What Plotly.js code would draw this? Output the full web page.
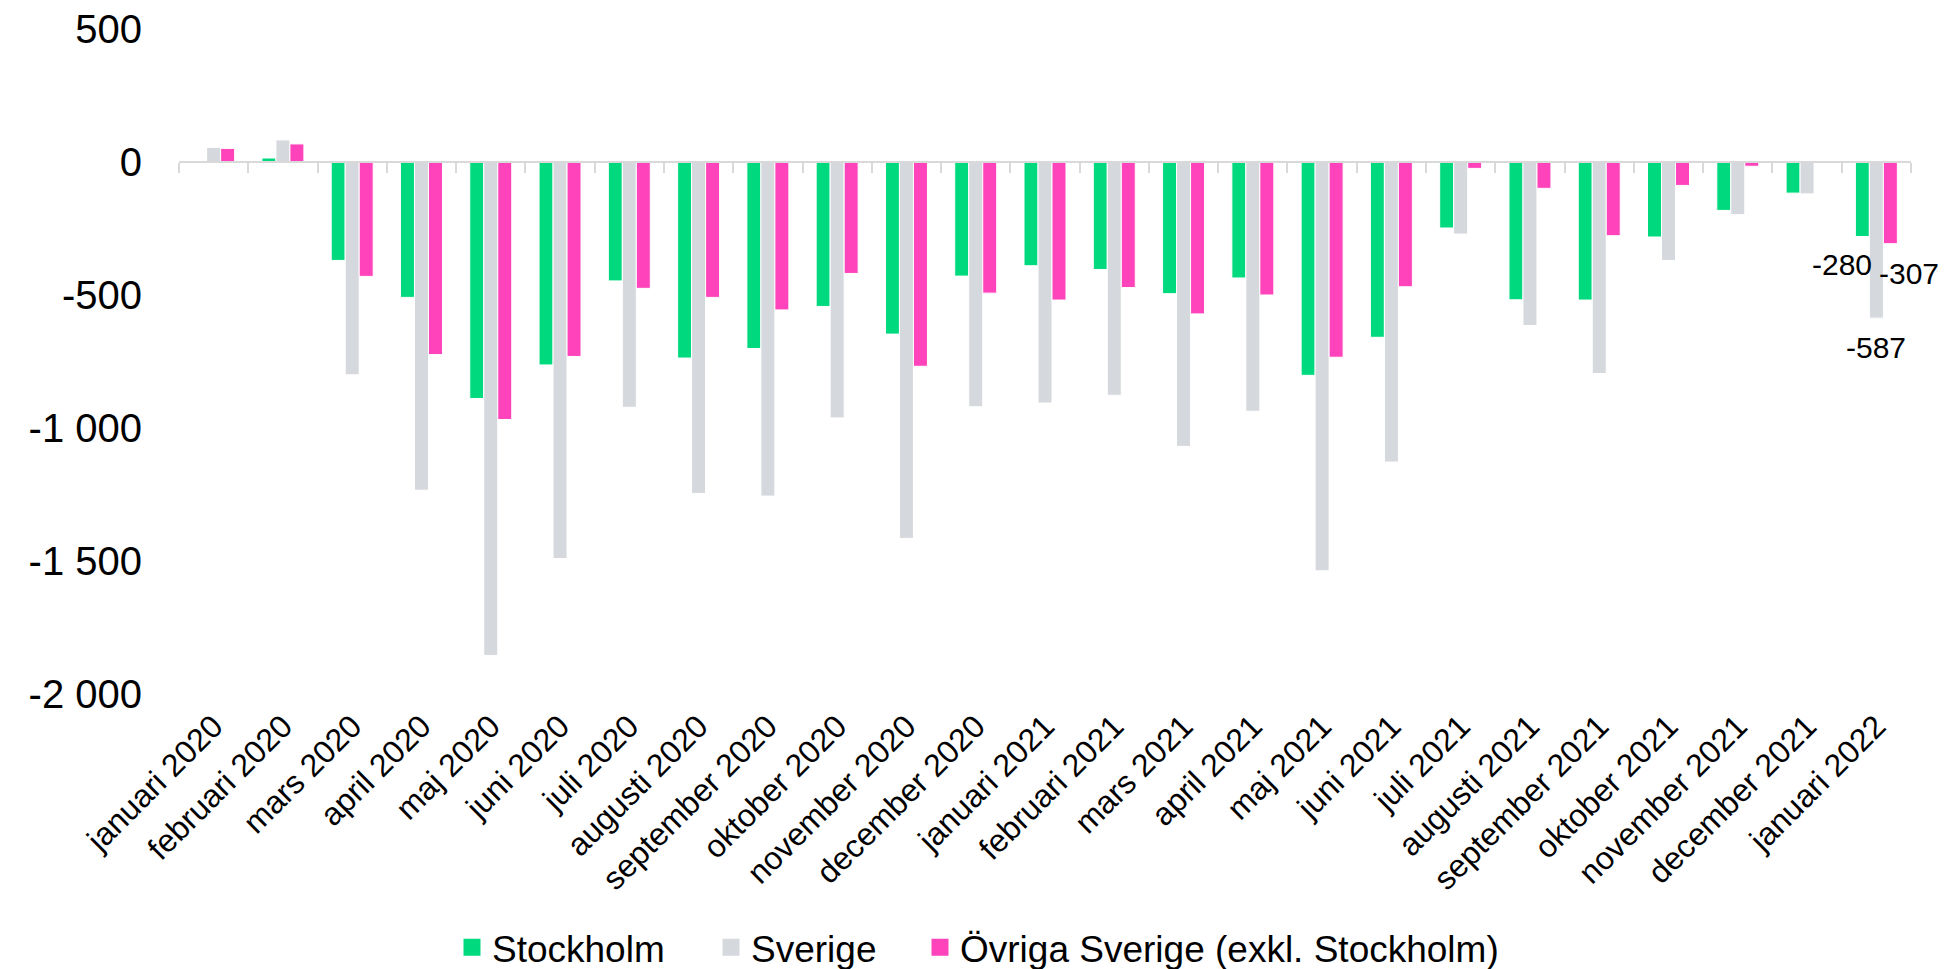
<!DOCTYPE html>
<html>
<head>
<meta charset="utf-8">
<script src="https://cdn.plot.ly/plotly-3.0.1.min.js"></script>
<style>html,body{margin:0;padding:0;background:#fff;}#chart{width:1944px;height:969px;}</style>
</head>
<body>
<div id="chart"></div>
<script>
var categories = ["januari 2020","februari 2020","mars 2020","april 2020","maj 2020","juni 2020","juli 2020","augusti 2020","september 2020","oktober 2020","november 2020","december 2020","januari 2021","februari 2021","mars 2021","april 2021","maj 2021","juni 2021","juli 2021","augusti 2021","september 2021","oktober 2021","november 2021","december 2021","januari 2022"];
var stockholm = [3, 15, -370, -509, -889, -763, -447, -737, -701, -543, -647, -429, -390, -404, -495, -436, -802, -659, -248, -518, -519, -282, -182, -117, -280];
var sverige = [55, 83, -800, -1234, -1855, -1491, -922, -1246, -1256, -962, -1415, -920, -906, -877, -1069, -937, -1537, -1128, -271, -615, -795, -370, -198, -120, -587];
var ovriga = [51, 68, -430, -724, -968, -731, -475, -509, -556, -419, -768, -493, -519, -472, -571, -500, -734, -469, -24, -99, -277, -88, -16, -3, -307];
var seriesNames = ["Stockholm", "Sverige", "Övriga Sverige (exkl. Stockholm)"];
var yTickVals = [500, 0, -500, -1000, -1500, -2000];
var yTickText = ["500", "0", "-500", "-1 000", "-1 500", "-2 000"];

var colors = ["#00D97E", "#D5D8DC", "#FF44BB"];
var font = "'Liberation Sans', Arial, sans-serif";

var allSeries = [stockholm, sverige, ovriga];
var legendIds = ["legend", "legend2", "legend3"];
var traces = allSeries.map(function (vals, i) {
  return {
    type: "bar",
    name: seriesNames[i],
    x: categories,
    y: vals,
    marker: { color: colors[i], line: { color: "#ffffff", width: 1 } },
    showlegend: false,
    hoverinfo: "x+y+name"
  };
});

// legend-only entries (bigger square swatches), kept off the bar grouping
seriesNames.forEach(function (nm, i) {
  traces.push({
    type: "bar",
    name: nm,
    x: [null], y: [null],
    xaxis: "x2", yaxis: "y",
    marker: { color: colors[i], line: { color: colors[i], width: 7 } },
    legend: legendIds[i],
    showlegend: true,
    hoverinfo: "skip"
  });
});

// boundary ticks for the axis line at zero
var boundaries = [];
for (var k = 0; k <= categories.length; k++) boundaries.push(k - 0.5);
var last = categories.length - 1;

function legendAt(xpx) {
  return {
    orientation: "h",
    xref: "container", yref: "container",
    x: xpx / 1944, xanchor: "left",
    y: 0.022, yanchor: "middle",
    font: { size: 37, family: font, color: "#000000" },
    bgcolor: "rgba(0,0,0,0)",
    borderwidth: 0,
    itemclick: false, itemdoubleclick: false
  };
}

var annFont = { size: 30, family: font, color: "#000000" };

var layout = {
  width: 1944,
  height: 969,
  margin: { l: 179, r: 33, t: 29, b: 275 },
  paper_bgcolor: "#ffffff",
  plot_bgcolor: "#ffffff",
  font: { family: font, color: "#000000" },
  barmode: "group",
  bargap: 0.394,
  bargroupgap: 0,
  showlegend: true,
  legend: legendAt(452),
  legend2: legendAt(711),
  legend3: legendAt(920),
  xaxis: {
    type: "category",
    categoryarray: categories,
    range: [-0.5, last + 0.5],
    autorange: false,
    tickangle: -45,
    tickfont: { size: 32, family: font, color: "#000000" },
    showline: false,
    showgrid: false,
    zeroline: false,
    ticks: "",
    ticklabelstandoff: 6
  },
  xaxis2: {
    overlaying: "x",
    anchor: "free",
    position: 0.8,
    type: "linear",
    range: [-0.5, last + 0.5],
    autorange: false,
    tickvals: boundaries,
    showticklabels: false,
    ticks: "outside",
    ticklen: 10,
    tickwidth: 1.5,
    tickcolor: "#D9D9D9",
    showline: true,
    linecolor: "#D9D9D9",
    linewidth: 1.5,
    showgrid: false,
    zeroline: false,
    fixedrange: true
  },
  yaxis: {
    range: [-2000, 500],
    autorange: false,
    tickvals: yTickVals,
    ticktext: yTickText,
    tickfont: { size: 40, family: font, color: "#000000" },
    showgrid: false,
    zeroline: false,
    showline: false,
    ticks: "",
    ticklabelstandoff: 36
  },
  annotations: [
    { x: categories[last], y: stockholm[last], xref: "x", yref: "y", text: String(stockholm[last]), showarrow: false, xshift: -34, yshift: -28, yanchor: "middle", font: annFont },
    { x: categories[last], y: sverige[last], xref: "x", yref: "y", text: String(sverige[last]), showarrow: false, xshift: 0, yshift: -29, yanchor: "middle", font: annFont },
    { x: categories[last], y: ovriga[last], xref: "x", yref: "y", text: String(ovriga[last]), showarrow: false, xshift: 33, yshift: -30, yanchor: "middle", font: annFont }
  ]
};

Plotly.newPlot("chart", traces, layout, { displayModeBar: false });
</script>
</body>
</html>
